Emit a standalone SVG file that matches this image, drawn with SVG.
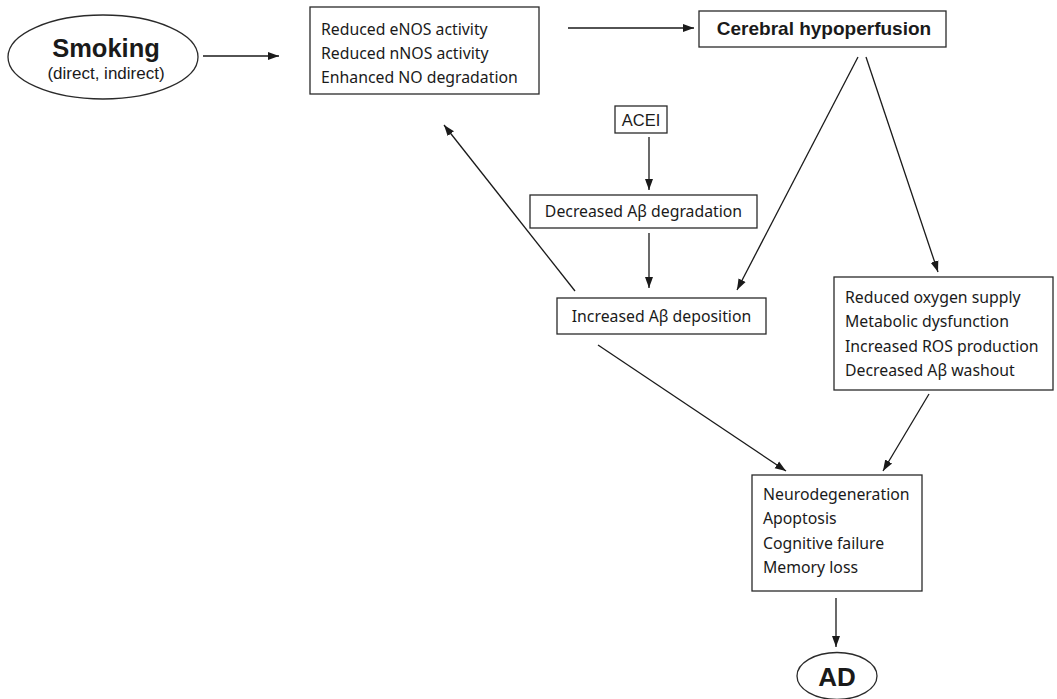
<svg xmlns="http://www.w3.org/2000/svg" width="1057" height="699" viewBox="0 0 1057 699">
<defs>
<marker id="ah" viewBox="0 0 11 10" refX="11" refY="5" markerWidth="11" markerHeight="10" markerUnits="userSpaceOnUse" orient="auto">
<path d="M0,1 L11,5 L0,9 z" fill="#1a1a1a"/>
</marker>
</defs>
<style>
.box{fill:#fff;stroke:#2a2a2a;stroke-width:1.3}
.t{font-family:"Noto Sans","DejaVu Sans",sans-serif;font-size:15.8px;fill:#1a1a1a}
.h{font-family:"Liberation Sans",Arial,sans-serif;fill:#1a1a1a}
.c line{stroke:#1a1a1a;stroke-width:1.3;marker-end:url(#ah)}
</style>
<rect width="1057" height="699" fill="#fff"/>
<g id="smoking">
<ellipse class="box" cx="103" cy="57" rx="95" ry="42"/>
<text class="h" x="106" y="57" font-size="25.5" font-weight="bold" text-anchor="middle">Smoking</text>
<text class="h" x="106" y="79" font-size="17" text-anchor="middle">(direct, indirect)</text>
</g>
<g id="nos">
<rect class="box" x="310" y="7" width="229" height="87"/>
<text class="t" x="321" y="35">Reduced eNOS activity</text>
<text class="t" x="321" y="59">Reduced nNOS activity</text>
<text class="t" x="321" y="83">Enhanced NO degradation</text>
</g>
<g id="hypoperfusion">
<rect class="box" x="699" y="11" width="247" height="36"/>
<text class="h" x="824" y="35" font-size="19" font-weight="bold" text-anchor="middle">Cerebral hypoperfusion</text>
</g>
<g id="acei">
<rect class="box" x="615" y="106" width="52" height="27"/>
<text class="h" x="641" y="126" font-size="16.5" text-anchor="middle">ACEI</text>
</g>
<g id="degradation">
<rect class="box" x="530" y="195" width="227" height="33"/>
<text class="t" x="643.5" y="217" text-anchor="middle">Decreased Aβ degradation</text>
</g>
<g id="deposition">
<rect class="box" x="557" y="298" width="209" height="36"/>
<text class="t" x="661.5" y="322" text-anchor="middle">Increased Aβ deposition</text>
</g>
<g id="oxygen">
<rect class="box" x="834" y="277" width="219" height="113"/>
<text class="t" x="845" y="303">Reduced oxygen supply</text>
<text class="t" x="845" y="327">Metabolic dysfunction</text>
<text class="t" x="845" y="352">Increased ROS production</text>
<text class="t" x="845" y="376">Decreased Aβ washout</text>
</g>
<g id="neuro">
<rect class="box" x="752" y="475" width="170" height="116"/>
<text class="t" x="763" y="500">Neurodegeneration</text>
<text class="t" x="763" y="524">Apoptosis</text>
<text class="t" x="763" y="549">Cognitive failure</text>
<text class="t" x="763" y="573">Memory loss</text>
</g>
<g id="ad">
<ellipse class="box" cx="837" cy="676" rx="40" ry="23.5"/>
<text class="h" x="837" y="686" font-size="26" font-weight="bold" text-anchor="middle">AD</text>
</g>
<g id="connectors" class="c">
<line x1="203" y1="56" x2="279" y2="56"/>
<line x1="568" y1="28" x2="694" y2="28"/>
<line x1="649" y1="137" x2="649" y2="190"/>
<line x1="649" y1="233" x2="649" y2="288"/>
<line x1="575" y1="291" x2="444" y2="125"/>
<line x1="858" y1="57" x2="737" y2="290"/>
<line x1="866" y1="57" x2="938" y2="272"/>
<line x1="598" y1="345" x2="786" y2="471"/>
<line x1="929" y1="394" x2="883" y2="471"/>
<line x1="836" y1="598" x2="836" y2="647"/>
</g>
</svg>
